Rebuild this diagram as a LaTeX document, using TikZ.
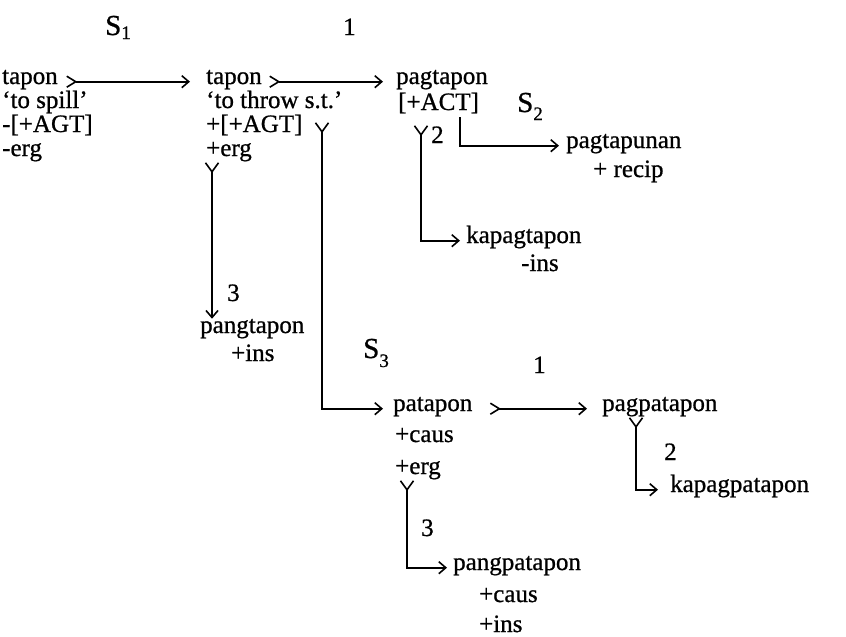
\documentclass[tikz,border=0pt]{standalone}
\usepackage{fontspec}
\setmainfont{Liberation Serif}[FakeBold=0.8]
\usetikzlibrary{arrows.meta,calc}
\tikzset{
  txt/.style={inner sep=0pt,anchor=base west,font=\fontsize{25}{25}\selectfont},
  slab/.style={inner sep=0pt,anchor=base west,font=\fontsize{29}{29}\selectfont},
  conn/.style={line width=1.6pt},
  headtip/.tip={Straight Barb[length=7pt,width=12pt,line width=1.6pt]},
  tailtip/.tip={Straight Barb[reversed,length=9pt,width=11pt,line width=1.6pt]},
  forktip/.tip={Straight Barb[reversed,length=9pt,width=13pt,line width=1.6pt]},
  tailarrow/.style={conn,{tailtip}-{headtip}},
  forkarrow/.style={conn,{forktip}-{headtip}},
  plainarrow/.style={conn,-{headtip}},
}
\newcommand{\subs}[2]{\raisebox{-#1pt}{\fontsize{19}{19}\selectfont #2}}
\begin{document}
\begin{tikzpicture}[x=1pt,y=-1pt]
\useasboundingbox (0,0) rectangle (846,637);

% labels above
\node[slab] (s1) at (105,35) {S\subs{4}{1}};
\node[txt] (n1a) at (343,35) {1};

% column 1
\node[txt] (tapon1) at (2,84) {tapon};
\node[txt] (spill) at (2,108) {‘to spill’};
\node[txt] (agt1) at (2,132) {-[+AGT]};
\node[txt] (erg1) at (2,156) {-erg};

% column 2
\node[txt] (tapon2) at (206,84) {tapon};
\node[txt] (throw) at (206,108) {‘to throw s.t.’};
\node[txt] (agt2) at (206,132) {+[+AGT]};
\node[txt] (erg2) at (206,156) {+erg};
\node[txt] (n3a) at (227,301) {3};
\node[txt] (pangtapon) at (200,333) {pangtapon};
\node[txt] (ins2) at (231,361) {+ins};

% column 3
\node[txt] (pagtapon) at (396,84) {pagtapon};
\node[txt] (act) at (398,110) {[+ACT]};
\node[slab] (s2) at (517,112) {S\subs{8}{2}};
\node[txt] (n2a) at (431,143) {2};
\node[txt] (pagtapunan) at (566,148) {pagtapunan};
\node[txt] (recip) at (593,177) {+ recip};
\node[txt] (kapagtapon) at (466,243) {kapagtapon};
\node[txt] (ins1) at (521,271) {-ins};

% lower part
\node[slab] (s3) at (363,358) {S\subs{9}{3}};
\node[txt] (n1b) at (533,373) {1};
\node[txt] (patapon) at (393,411) {patapon};
\node[txt] (caus1) at (395,442) {+caus};
\node[txt] (erg3) at (395,474) {+erg};
\node[txt] (pagpatapon) at (602,411) {pagpatapon};
\node[txt] (n2b) at (664,460) {2};
\node[txt] (kapagpatapon) at (670,492) {kapagpatapon};
\node[txt] (n3b) at (421,536) {3};
\node[txt] (pangpatapon) at (453,570) {pangpatapon};
\node[txt] (caus2) at (479,602) {+caus};
\node[txt] (ins3) at (479,632) {+ins};

% fork start points
\coordinate (f2) at (322,122);
\coordinate (f3) at (212,162);
\coordinate (f4) at (421,125);
\coordinate (c1) at (460,117);
\coordinate (f5) at (407,480);
\coordinate (f6) at (636,417);

% horizontal derivation arrows
\draw[tailarrow,shorten >=16pt] ([xshift=8pt]tapon1.mid east) -- (tapon2.mid west);
\draw[tailarrow,shorten >=13pt] ([xshift=7pt]tapon2.mid east) -- (pagtapon.mid west);
\draw[tailarrow,shorten >=15pt] ([xshift=17pt]patapon.mid east) -- (pagpatapon.mid west);

% forks and elbows
\draw[forkarrow] (f3) -- (f3 |- pangtapon.north);
\draw[forkarrow,shorten >=10pt] (f2) |- (patapon.mid west);
\draw[forkarrow,shorten >=6pt] (f4) |- (kapagtapon.mid west);
\draw[plainarrow,shorten >=7pt] (c1) |- (pagtapunan.mid west);
\draw[forkarrow,shorten >=6pt] (f5) |- (pangpatapon.mid west);
\draw[forkarrow,shorten >=12pt] (f6) |- (kapagpatapon.mid west);
\end{tikzpicture}
\end{document}
